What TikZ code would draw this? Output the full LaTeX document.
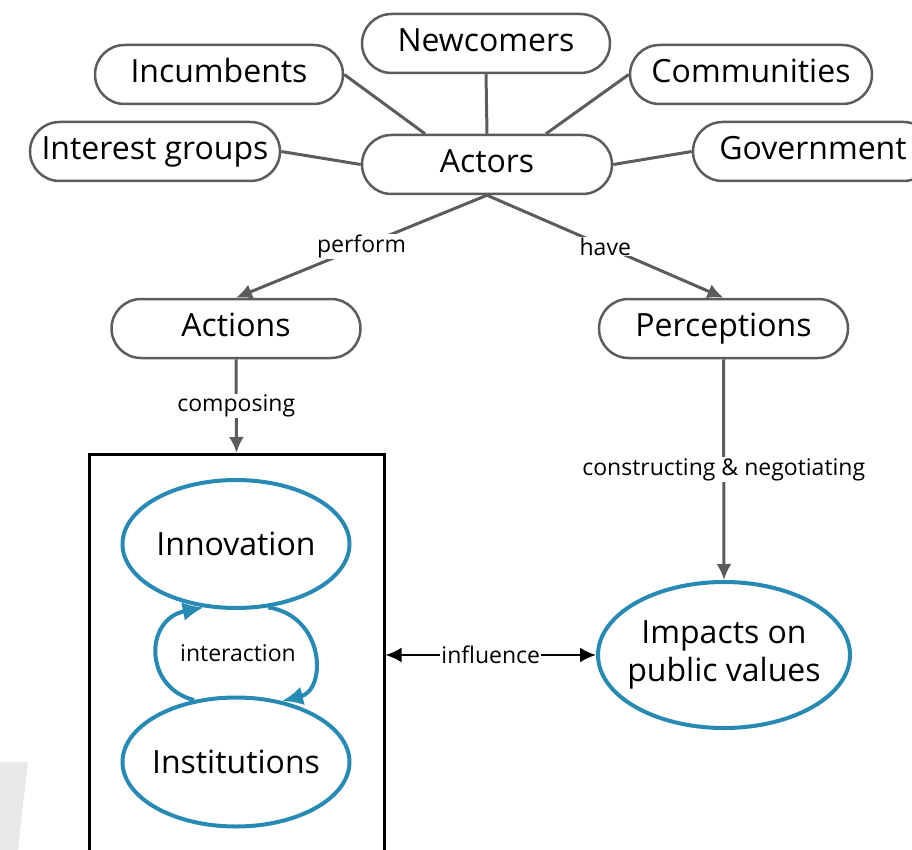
\documentclass[tikz,border=0pt]{standalone}
\usepackage{fontspec}
\setmainfont{Open Sans}
\usetikzlibrary{shapes.misc,shapes.geometric,arrows.meta,calc}
\definecolor{gline}{RGB}{90,92,94}
\definecolor{blueo}{RGB}{38,138,180}
\definecolor{wmark}{RGB}{232,233,235}
\tikzset{
  pill/.style={rounded rectangle, draw=gline, line width=2.5pt, minimum height=59pt,
    inner sep=0pt, fill=white, text height=24.5pt, text depth=8pt,
    font=\fontsize{32pt}{38pt}\selectfont},
  oval/.style={ellipse, draw=blueo, line width=4pt, inner ysep=0pt, inner xsep=-20pt, fill=white,
    font=\fontsize{32pt}{38pt}\selectfont, align=center},
  conn/.style={draw=gline, line width=3pt},
  garrow/.style={conn, -{Latex[length=16pt,width=15pt]}},
  lbl/.style={fill=white, inner sep=1pt, text=black, font=\fontsize{23pt}{28pt}\selectfont},
  loopline/.style={draw=blueo, line width=4pt, -{Latex[length=21pt,width=19pt]}},
  infl/.style={draw=black, line width=2.5pt, {Latex[length=16pt,width=15pt]}-{Latex[length=16pt,width=15pt]}},
}
\begin{document}
\begin{tikzpicture}[x=1pt,y=-1pt]
\useasboundingbox (0,0) rectangle (912,850);
\clip (0,0) rectangle (912,850);
% faint watermark
\fill[wmark] (0,762) -- (28,762) -- (18,850) -- (0,850) -- cycle;

% actor nodes
\node[pill, minimum width=248pt] (newc) at (486,43.5) {Newcomers};
\node[pill, minimum width=248pt] (inc) at (219,74.5) {Incumbents};
\node[pill, minimum width=242pt] (comm) at (751,74.5) {Communities};
\node[pill, minimum width=250pt] (inter) at (155,151.5) {Interest groups};
\node[pill, minimum width=240pt] (gov) at (813,151.5) {Government};
\node[pill, minimum width=250pt] (actors) at (487,164.5) {Actors};
\node[pill, minimum width=249pt] (actions) at (236,328.5) {Actions};
\node[pill, minimum width=249pt] (perc) at (723.5,328.5) {Perceptions};

% satellite links
\draw[conn] (newc.south) -- (actors.north);
\draw[conn] (inc.east) -- ($(actors.north)+(-62,0)$);
\draw[conn] (comm.west) -- ($(actors.north)+(59,0)$);
\draw[conn] (inter.east) -- (actors.west);
\draw[conn] (actors.east) -- (gov.west);

% system box
\node[draw=black, line width=3pt, minimum width=295pt, minimum height=440pt,
      anchor=north, inner sep=0pt] (sys) at (236.5,453) {};

% ellipses
\node[oval, minimum width=227pt, minimum height=128pt] (innov) at (236,544) {Innovation};
\node[oval, minimum width=227pt, minimum height=129pt] (inst) at (236,762) {Institutions};
\node[oval, minimum width=252pt, minimum height=146pt] (impacts) at (724,655)
  {Impacts on\\public values};

% interaction loop
\draw[loopline] (inst.124) .. controls +(-50,-12) and +(-60,12) .. (innov.243);
\draw[loopline] (innov.297) .. controls +(57,9) and +(45,-11) .. (inst.53);
\node[lbl, fill=none] (interlbl) at (238,653) {interaction};

% arrows with labels
\draw[garrow] (actors.south) -- node[lbl] {perform} (actions.north);
\draw[garrow] (actors.south) -- node[lbl] {have} (perc.north);
\draw[garrow] (actions.south) -- node[lbl] {composing} (sys.north);
\draw[garrow] (perc.south) -- node[lbl] {constructing \& negotiating} (impacts.north);

% influence
\draw[infl] (sys.east |- impacts.west) -- node[lbl] {influence} (impacts.west);
\end{tikzpicture}
\end{document}
